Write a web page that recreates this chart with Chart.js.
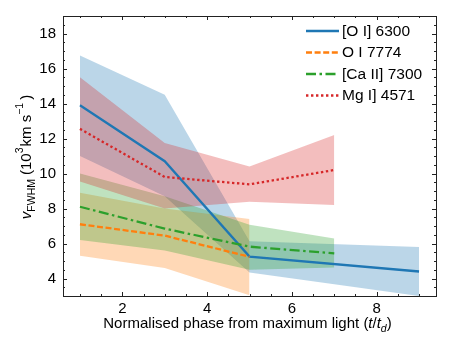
<!DOCTYPE html>
<html><head><meta charset="utf-8">
<script src="https://cdn.jsdelivr.net/npm/chart.js@4/dist/chart.umd.min.js"></script>
<style>html,body{margin:0;padding:0;background:#fff}</style>
</head><body>
<canvas id="c" width="450" height="337" style="width:450px;height:337px;display:block"></canvas>
<script>
// ---- data ----
const seriesNames = ['[O I] 6300', 'O I 7774', '[Ca II] 7300', 'Mg I] 4571'];

const oiPhase = [1, 3, 5, 9];
const oiV     = [13.9, 10.7, 5.25, 4.4];
const oiLo    = [11.0, 8.7, 4.35, 3.0];
const oiHi    = [16.75, 14.5, 6.13, 5.8];

const o7774Phase = [1, 3, 5];
const o7774V     = [7.1, 6.45, 5.24];
const o7774Lo    = [5.3, 4.6, 3.05];
const o7774Hi    = [8.9, 8.0, 7.4];

const caPhase = [1, 3, 5, 7];
const caV     = [8.1, 6.85, 5.82, 5.44];
const caLo    = [6.2, 5.6, 4.5, 4.63];
const caHi    = [10.0, 8.7, 7.07, 6.29];

const mgPhase = [1, 3, 5, 7];
const mgV     = [12.55, 9.8, 9.38, 10.2];
const mgLo    = [9.55, 8.0, 8.38, 8.2];
const mgHi    = [15.5, 11.75, 10.4, 12.2];

const xTicks = [2, 4, 6, 8];
const yTicks = [4, 6, 8, 10, 12, 14, 16, 18];

// ---- styles ----
const FONT = '"Liberation Sans", Arial, sans-serif';
const colors = ['#1f77b4', '#ff7f0e', '#2ca02c', '#d62728'];
const fills  = ['rgba(31,119,180,0.3)', 'rgba(255,127,14,0.3)', 'rgba(44,160,44,0.3)', 'rgba(214,39,40,0.3)'];
const dashes = [[], [6, 2.6], [10, 3.5, 2.5, 3.5], [2.4, 2.6]];
const LW = 2.3;

const series = [
  {ph: oiPhase, v: oiV, lo: oiLo, hi: oiHi},
  {ph: o7774Phase, v: o7774V, lo: o7774Lo, hi: o7774Hi},
  {ph: caPhase, v: caV, lo: caLo, hi: caHi},
  {ph: mgPhase, v: mgV, lo: mgLo, hi: mgHi},
];
const pts = (xs, ys) => xs.map((x, i) => ({x: x, y: ys[i]}));

const datasets = [];
series.forEach((s, k) => {
  datasets.push({
    label: seriesNames[k], data: pts(s.ph, s.v), borderColor: colors[k], borderWidth: LW,
    borderDash: dashes[k], borderCapStyle: 'butt', pointRadius: 0, fill: false, tension: 0, order: 4 - k
  });
});
series.forEach((s, k) => {
  const hiIdx = datasets.length;
  datasets.push({
    label: 'hi' + k, data: pts(s.ph, s.hi), borderWidth: 0, borderColor: 'rgba(0,0,0,0)',
    backgroundColor: fills[k], pointRadius: 0, fill: hiIdx + 1, tension: 0, order: 20 - 2 * k
  });
  datasets.push({
    label: 'lo' + k, data: pts(s.ph, s.lo), borderWidth: 0, borderColor: 'rgba(0,0,0,0)',
    pointRadius: 0, fill: false, tension: 0, order: 19 - 2 * k
  });
});

function drawRich(ctx, parts, cx, cy) {
  let w = 0;
  parts.forEach(p => { ctx.font = p.font; p.w = ctx.measureText(p.t).width; w += p.w + (p.gap || 0); });
  let x = cx - w / 2;
  parts.forEach(p => {
    ctx.font = p.font;
    ctx.fillText(p.t, x, cy + (p.dy || 0));
    x += p.w + (p.gap || 0);
  });
}

const decor = {
  id: 'decor',
  afterDraw(chart) {
    const ctx = chart.ctx, a = chart.chartArea;
    const xs = chart.scales.x, ys = chart.scales.y;
    ctx.save();
    // frame
    ctx.strokeStyle = '#222'; ctx.lineWidth = 1;
    ctx.strokeRect(Math.round(a.left) + 0.5, Math.round(a.top) + 0.5, Math.round(a.right - a.left), Math.round(a.bottom - a.top));
    // ticks inward all sides
    ctx.beginPath();
    for (let v = 0.5; v <= 9.4; v += 0.5) {
      if (v < xs.min) continue;
      const px = Math.round(xs.getPixelForValue(v)) + 0.5;
      const len = (Math.abs(v / 2 - Math.round(v / 2)) < 1e-6) ? 4 : 2;
      ctx.moveTo(px, a.bottom); ctx.lineTo(px, a.bottom - len);
      ctx.moveTo(px, a.top); ctx.lineTo(px, a.top + len);
    }
    for (let v = 3; v <= 19; v += 0.5) {
      const py = Math.round(ys.getPixelForValue(v)) + 0.5;
      const len = (Math.abs(v / 2 - Math.round(v / 2)) < 1e-6) ? 4 : 2;
      ctx.moveTo(a.left, py); ctx.lineTo(a.left + len, py);
      ctx.moveTo(a.right, py); ctx.lineTo(a.right - len, py);
    }
    ctx.stroke();

    ctx.fillStyle = '#000';
    ctx.textBaseline = 'alphabetic';
    // x title
    const f = '15px ' + FONT, fi = 'italic 15px ' + FONT, fs = 'italic 10.5px ' + FONT;
    drawRich(ctx, [
      {t: 'Normalised phase from maximum light (', font: f},
      {t: 't', font: fi}, {t: '/', font: f}, {t: 't', font: fi},
      {t: 'd', font: fs, dy: 4}, {t: ')', font: f, gap: 0}
    ], (a.left + a.right) / 2 - 2, 328);
    // y title
    ctx.save();
    ctx.translate(31, 157);
    ctx.rotate(-Math.PI / 2);
    const fs2 = '10.5px ' + FONT;
    drawRich(ctx, [
      {t: 'v', font: fi}, {t: 'FWHM', font: fs2, dy: 4, gap: 4},
      {t: '(10', font: f}, {t: '3', font: fs2, dy: -8, gap: 1},
      {t: 'km s', font: f}, {t: '\u22121', font: fs2, dy: -8, gap: 3},
      {t: ')', font: f}
    ], 0, 0);
    ctx.restore();

    // legend
    const rows = [31, 52.5, 74, 95.5];
    const fl = '15.5px ' + FONT;
    seriesNames.forEach((name, k) => {
      ctx.save();
      ctx.strokeStyle = colors[k]; ctx.lineWidth = LW; ctx.lineCap = 'butt';
      ctx.setLineDash(dashes[k]);
      ctx.beginPath(); ctx.moveTo(306, rows[k]); ctx.lineTo(339, rows[k]); ctx.stroke();
      ctx.restore();
      ctx.font = fl; ctx.textBaseline = 'middle'; ctx.fillStyle = '#000';
      ctx.fillText(name, 342, rows[k] + 0.5);
    });
    ctx.restore();
  }
};

new Chart(document.getElementById('c'), {
  type: 'line',
  data: {datasets: datasets},
  options: {
    responsive: false, animation: false, devicePixelRatio: 1,
    layout: {padding: {left: 0, right: 14, top: 10, bottom: 0}},
    plugins: {legend: {display: false}, tooltip: {enabled: false}, filler: {propagate: false}},
    scales: {
      x: {
        type: 'linear', min: 0.6, max: 9.4,
        afterBuildTicks: s => { s.ticks = xTicks.map(v => ({value: v})); },
        afterFit: s => { s.height = 41; },
        grid: {display: false, drawTicks: false}, border: {display: false},
        ticks: {color: '#000', font: {family: FONT, size: 15}, padding: 4, maxRotation: 0}
      },
      y: {
        type: 'linear', min: 3, max: 19,
        afterBuildTicks: s => { s.ticks = yTicks.map(v => ({value: v})); },
        afterFit: s => { s.width = 63; },
        grid: {display: false, drawTicks: false}, border: {display: false},
        ticks: {color: '#000', font: {family: FONT, size: 15}, padding: 7}
      }
    }
  },
  plugins: [decor]
});
</script>
</body></html>
